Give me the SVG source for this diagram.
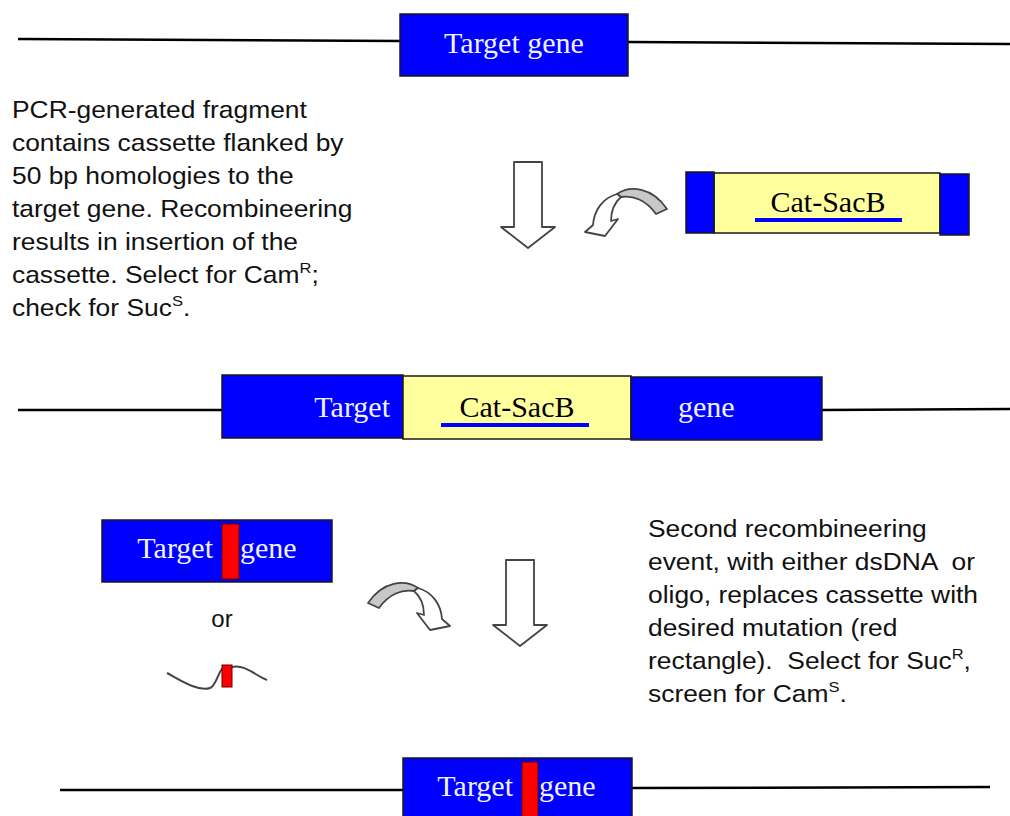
<svg xmlns="http://www.w3.org/2000/svg" width="1010" height="816" viewBox="0 0 1010 816">
  <style>
    .dna { stroke: #000; stroke-width: 2.5; fill: none; }
    .blue { fill: #0000ff; stroke: #1a1a1a; stroke-width: 1.5; }
    .yellow { fill: #ffff9e; stroke: #1a1a1a; stroke-width: 1.5; }
    .red { fill: #ff0000; stroke: #600000; stroke-width: 1; }
    .lbl { font-family: "Liberation Serif", "Times New Roman", serif; font-size: 30px; fill: #f2f2ff; }
    .lbl-dark { font-family: "Liberation Serif", "Times New Roman", serif; font-size: 30px; fill: #000; }
    .desc { font-family: "Liberation Sans", Arial, sans-serif; font-size: 24px; fill: #111; white-space: pre; }
    .sup { font-size: 15px; }
    .uline { stroke: #0000ff; stroke-width: 4; }
    .arrow { fill: #fff; stroke: #444; stroke-width: 1.8; stroke-linejoin: round; }
    .arrow-back { fill: #c8c8c8; stroke: #444; stroke-width: 1.8; stroke-linejoin: round; }
    .oligo { stroke: #444; stroke-width: 2; fill: none; }
  </style>
  <defs>
    <!-- block down arrow, tip at origin -->
    <path id="downArrow" class="arrow" d="M-14,-86 L14,-86 L14,-21 L27,-21 L0,0 L-27,-21 L-14,-21 Z"/>
    <!-- curved 3D arrow: grey back band and white front band ending in a head -->
    <g id="curvedArrow">
      <path class="arrow-back" d="M617,194 C630,185 652,187 667,209 L656,214 C646,200 633,195 621,197 Z"/>
      <path class="arrow" d="M617,194 C603,198 594,210 593,225 L585,232 L605,236 L618,219 L611,221 C611,212 614,203 621,197 Z"/>
    </g>
  </defs>

  <!-- row 1: chromosome with target gene -->
  <g id="row1">
    <path class="dna" d="M18,39 L400,41 M628,42 L1010,44"/>
    <g id="target-gene-1">
      <rect class="blue" x="400" y="14" width="228" height="62"/>
      <text class="lbl" x="514" y="53" text-anchor="middle">Target gene</text>
    </g>
  </g>

  <!-- description of first recombineering step -->
  <g id="note-1">
    <g transform="translate(12,0) scale(1.1,1)">
      <text class="desc" x="0" y="118">PCR-generated fragment</text>
      <text class="desc" x="0" y="151">contains cassette flanked by</text>
      <text class="desc" x="0" y="184">50 bp homologies to the</text>
      <text class="desc" x="0" y="217">target gene. Recombineering</text>
      <text class="desc" x="0" y="250">results in insertion of the</text>
      <text class="desc" x="0" y="283">cassette. Select for Cam<tspan class="sup" dy="-10">R</tspan><tspan dy="10">;</tspan></text>
      <text class="desc" x="0" y="316">check for Suc<tspan class="sup" dy="-10">S</tspan><tspan dy="10">.</tspan></text>
    </g>
  </g>

  <!-- PCR fragment: cassette with homology arms -->
  <g id="pcr-fragment">
    <rect class="yellow" x="714" y="173" width="226" height="60"/>
    <rect class="blue" x="686" y="172" width="28" height="61"/>
    <rect class="blue" x="940" y="174" width="29" height="61"/>
    <text class="lbl-dark" x="828" y="212" text-anchor="middle">Cat-SacB</text>
    <line class="uline" x1="755" y1="220" x2="902" y2="220"/>
  </g>

  <!-- connectors between steps -->
  <g id="connectors">
    <use href="#downArrow" transform="translate(528,248)"/>
    <use href="#curvedArrow"/>
    <use href="#curvedArrow" transform="translate(1035,394) scale(-1,1)"/>
    <use href="#downArrow" transform="translate(520,646)"/>
  </g>

  <!-- row 2: cassette inserted into target gene -->
  <g id="row2">
    <path class="dna" d="M18,410 L222,410 M822,410 L1010,409"/>
    <g id="target-gene-2">
      <rect class="blue" x="222" y="375" width="181" height="63"/>
      <rect class="yellow" x="403" y="376" width="228" height="63"/>
      <rect class="blue" x="631" y="377" width="191" height="63"/>
      <text class="lbl" x="390" y="417" text-anchor="end">Target</text>
      <text class="lbl-dark" x="517" y="417" text-anchor="middle">Cat-SacB</text>
      <line class="uline" x1="441" y1="425" x2="589" y2="425"/>
      <text class="lbl" x="678" y="417">gene</text>
    </g>
  </g>

  <!-- row 3: donor DNA options -->
  <g id="donor-dsdna">
    <rect class="blue" x="102" y="520" width="230" height="62"/>
    <text class="lbl" x="213" y="558" text-anchor="end">Target</text>
    <text class="lbl" x="240" y="558">gene</text>
    <rect class="red" x="222" y="524" width="17" height="55"/>
  </g>
  <g id="or-label">
    <text class="desc" x="222" y="627" text-anchor="middle">or</text>
  </g>
  <g id="donor-oligo">
    <path class="oligo" d="M167,673 C180,680 198,692 210,688 C216,686 218,672 223,668 M232,667 C245,664 256,676 267,680"/>
    <rect class="red" x="222" y="665" width="10" height="22"/>
  </g>

  <!-- description of second recombineering step -->
  <g id="note-2">
    <g transform="translate(648,0) scale(1.1,1)">
      <text class="desc" x="0" y="537">Second recombineering</text>
      <text class="desc" x="0" y="570">event, with either dsDNA  or</text>
      <text class="desc" x="0" y="603">oligo, replaces cassette with</text>
      <text class="desc" x="0" y="636">desired mutation (red</text>
      <text class="desc" x="0" y="669">rectangle).  Select for Suc<tspan class="sup" dy="-10">R</tspan><tspan dy="10">,</tspan></text>
      <text class="desc" x="0" y="702">screen for Cam<tspan class="sup" dy="-10">S</tspan><tspan dy="10">.</tspan></text>
    </g>
  </g>

  <!-- row 4: final mutated target gene -->
  <g id="row4">
    <path class="dna" d="M60,790 L403,790 M632,788 L990,787"/>
    <g id="target-gene-4">
      <rect class="blue" x="403" y="758" width="229" height="62"/>
      <text class="lbl" x="513" y="796" text-anchor="end">Target</text>
      <text class="lbl" x="539" y="796">gene</text>
      <rect class="red" x="522" y="762" width="16" height="58"/>
    </g>
  </g>
</svg>
